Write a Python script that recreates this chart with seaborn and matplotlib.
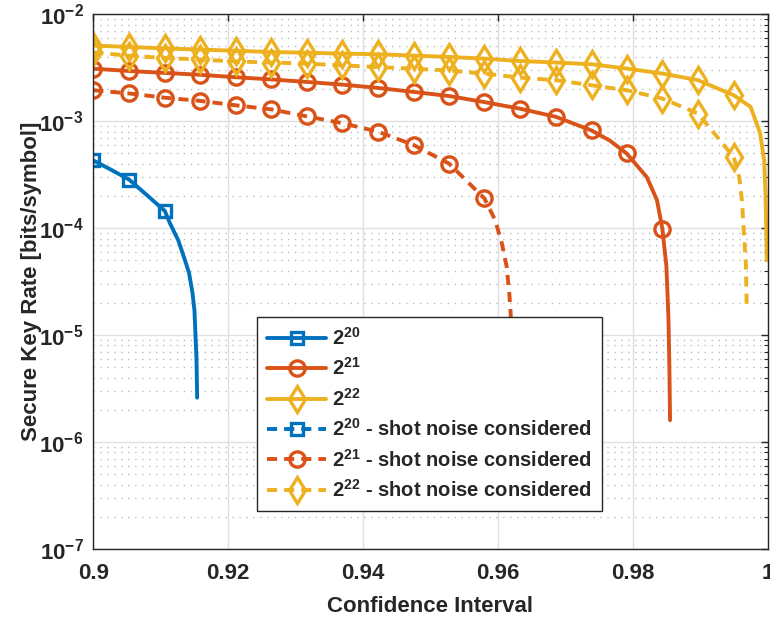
import seaborn as sns
import matplotlib.pyplot as plt
from matplotlib.ticker import LogLocator, NullFormatter

# marker positions (confidence interval)
x_markers = [0.9000, 0.9053, 0.9106, 0.9158, 0.9211, 0.9264, 0.9317, 0.9369, 0.9422, 0.9475,
             0.9528, 0.9580, 0.9633, 0.9686, 0.9739, 0.9791, 0.9844, 0.9897, 0.9950]

# 2^20
x_20 = [0.9000, 0.9027, 0.9053, 0.9079, 0.9106, 0.9114, 0.9126, 0.9136, 0.9142, 0.9147,
        0.9150, 0.9153, 0.9154]
y_20 = [4.3e-4, 3.5e-4, 2.85e-4, 2.05e-4, 1.45e-4, 1.10e-4, 7.7e-5, 5.0e-5, 3.8e-5, 2.5e-5,
        1.7e-5, 6.0e-6, 2.6e-6]

# 2^21
x_21 = x_markers[:15] + [0.9766, 0.9791, 0.9821, 0.9836, 0.9844, 0.9850, 0.9853, 0.98544, 0.98554]
y_21 = [3.1e-3, 2.95e-3, 2.83e-3, 2.72e-3, 2.58e-3, 2.46e-3, 2.33e-3, 2.20e-3, 2.05e-3, 1.88e-3,
        1.72e-3, 1.51e-3, 1.31e-3, 1.10e-3, 8.2e-4, 6.6e-4, 5.0e-4, 3.0e-4, 1.83e-4, 9.9e-5,
        4.4e-5, 1.48e-5, 5.1e-6, 1.6e-6]

# 2^22
x_22 = x_markers + [0.9975, 0.9989, 0.9995, 0.9997, 0.9998, 0.9999]
y_22 = [5.1e-3, 4.95e-3, 4.8e-3, 4.68e-3, 4.56e-3, 4.44e-3, 4.37e-3, 4.29e-3, 4.23e-3, 4.11e-3,
        3.99e-3, 3.85e-3, 3.66e-3, 3.54e-3, 3.41e-3, 3.11e-3, 2.79e-3, 2.42e-3, 1.75e-3,
        1.36e-3, 7.7e-4, 4.3e-4, 2.1e-4, 1.03e-4, 5.0e-5]

# shot noise considered
x_20_sn = []
y_20_sn = []

x_21_sn = x_markers[:12] + [0.9596, 0.9606, 0.9613, 0.9617, 0.9619, 0.9622, 0.9624]
y_21_sn = [1.95e-3, 1.82e-3, 1.66e-3, 1.55e-3, 1.41e-3, 1.29e-3, 1.11e-3, 9.6e-4, 8.0e-4, 6.0e-4,
           4.0e-4, 1.9e-4, 1.19e-4, 7.2e-5, 4.4e-5, 2.45e-5, 1.6e-5, 5.0e-6, 1.5e-6]

x_22_sn = x_markers + [0.9958, 0.9962, 0.9965, 0.9968, 0.9969]
y_22_sn = [4.4e-3, 4.1e-3, 3.9e-3, 3.78e-3, 3.62e-3, 3.54e-3, 3.46e-3, 3.33e-3, 3.21e-3, 3.10e-3,
           2.98e-3, 2.79e-3, 2.56e-3, 2.42e-3, 2.17e-3, 1.95e-3, 1.63e-3, 1.18e-3, 4.6e-4,
           3.0e-4, 1.83e-4, 9.0e-5, 4.4e-5, 1.9e-5]

x_ticks = [0.9, 0.92, 0.94, 0.96, 0.98, 1.0]
x_tick_labels = ['0.9', '0.92', '0.94', '0.96', '0.98', '1']
y_ticks = [1e-7, 1e-6, 1e-5, 1e-4, 1e-3, 1e-2]
y_tick_labels = [r'$\mathbf{10^{-7}}$', r'$\mathbf{10^{-6}}$', r'$\mathbf{10^{-5}}$',
                 r'$\mathbf{10^{-4}}$', r'$\mathbf{10^{-3}}$', r'$\mathbf{10^{-2}}$']

sns.set_theme(style='white')
plt.rcParams['font.family'] = ['Liberation Sans', 'DejaVu Sans']
plt.rcParams['font.weight'] = 'bold'
plt.rcParams['mathtext.fontset'] = 'custom'
plt.rcParams['mathtext.rm'] = 'Liberation Sans:bold'
plt.rcParams['mathtext.bf'] = 'Liberation Sans:bold'
plt.rcParams['axes.unicode_minus'] = False

blue, orange, yellow = '#0072BD', '#D95319', '#EDB120'
dash = (0, (2.6, 1.8))


def marks(xs):
    return [i for i, v in enumerate(xs) if v in x_markers]


fig = plt.figure(figsize=(7.7, 6.19), dpi=100)
ax = fig.add_axes([0.1212, 0.1131, 0.8756, 0.8638])

common = dict(lw=2.8, mfc='none', mew=2.4, estimator=None, ax=ax)
sns.lineplot(x=x_20, y=y_20, color=blue, mec=blue, marker='s', ms=9, markevery=marks(x_20),
             label=r'$\mathbf{2^{20}}$', **common)
sns.lineplot(x=x_21, y=y_21, color=orange, mec=orange, marker='o', ms=11, markevery=marks(x_21),
             label=r'$\mathbf{2^{21}}$', **common)
sns.lineplot(x=x_22, y=y_22, color=yellow, mec=yellow, marker='d', ms=13.5, markevery=marks(x_22),
             label=r'$\mathbf{2^{22}}$', **common)
ax.plot(x_20_sn, y_20_sn, color=blue, marker='s', ms=9, lw=2.8, mfc='none', mew=2.4,
        linestyle=dash, label=r'$\mathbf{2^{20}}$ - shot noise considered')
sns.lineplot(x=x_21_sn, y=y_21_sn, color=orange, mec=orange, marker='o', ms=11,
             markevery=marks(x_21_sn), linestyle=dash,
             label=r'$\mathbf{2^{21}}$ - shot noise considered', **common)
sns.lineplot(x=x_22_sn, y=y_22_sn, color=yellow, mec=yellow, marker='d', ms=13.5,
             markevery=marks(x_22_sn), linestyle=dash,
             label=r'$\mathbf{2^{22}}$ - shot noise considered', **common)

ax.set_yscale('log')
ax.set_xlim(0.9, 1.0)
ax.set_ylim(1e-7, 1e-2)
ax.set_xticks(x_ticks, x_tick_labels)
ax.set_yticks(y_ticks, y_tick_labels)
ax.yaxis.set_minor_locator(LogLocator(base=10, subs=range(2, 10), numticks=20))
ax.yaxis.set_minor_formatter(NullFormatter())

ax.tick_params(axis='both', which='both', direction='in', top=True, right=True,
               labelsize=16, colors='#262626')
ax.tick_params(axis='x', pad=10)
ax.tick_params(axis='y', pad=7)
ax.tick_params(which='major', length=5, width=1)
ax.tick_params(which='minor', length=3, width=0.8)
for lbl in ax.get_xticklabels():
    lbl.set_fontweight('bold')

ax.grid(which='major', color='#e0e0e0', lw=1, linestyle='-')
ax.grid(which='minor', axis='y', color='#bdbdbd', lw=1, linestyle=(0, (1, 4)))
ax.set_axisbelow(True)
for s in ax.spines.values():
    s.set_color('#262626')
    s.set_linewidth(1)

ax.set_xlabel('Confidence Interval', fontsize=16, fontweight='bold', color='#262626', labelpad=9)
ax.set_ylabel('Secure Key Rate [bits/symbol]', fontsize=16, fontweight='bold', color='#262626',
              labelpad=-2)

leg = ax.legend(loc='upper left', bbox_to_anchor=(0.2433, 0.434), borderaxespad=0,
                fancybox=False, edgecolor='#262626', framealpha=1, handlelength=2.9,
                prop={'size': 14.5, 'weight': 'bold'}, labelspacing=0.42, handletextpad=0.3,
                borderpad=0.5)
leg.get_frame().set_linewidth(1)

fig.savefig('out.png', dpi=100)
